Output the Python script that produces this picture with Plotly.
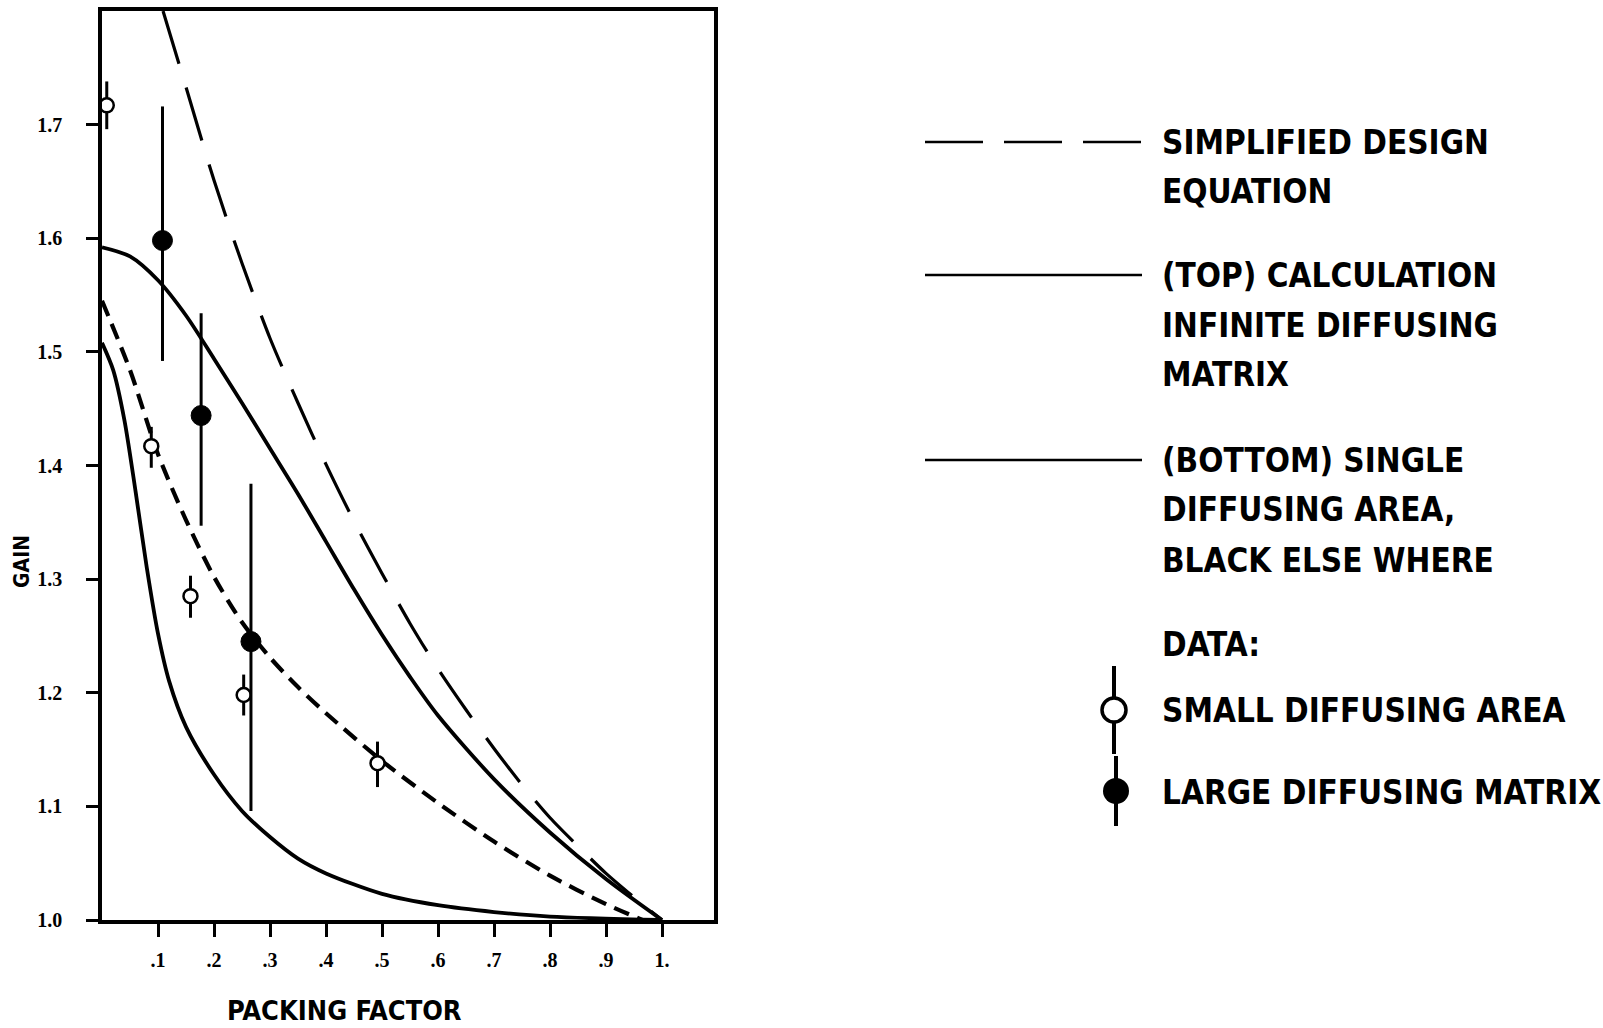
import plotly.graph_objects as go

# ---------------- data ----------------
design_x = [0.109, 0.15, 0.2, 0.25, 0.3, 0.35, 0.4, 0.45, 0.5, 0.55, 0.6, 0.65, 0.7, 0.75, 0.8, 0.85, 0.9, 0.95, 1.0]
design_y = [1.8, 1.733, 1.651, 1.578, 1.512, 1.455, 1.401, 1.351, 1.305, 1.261, 1.221, 1.185, 1.151, 1.119, 1.090, 1.065, 1.041, 1.02, 1.0]

top_x = [0, 0.05, 0.1, 0.15, 0.2, 0.25, 0.3, 0.35, 0.4, 0.45, 0.5, 0.55, 0.6, 0.7, 0.8, 0.9, 1.0]
top_y = [1.592, 1.584, 1.563, 1.532, 1.494, 1.455, 1.415, 1.375, 1.333, 1.291, 1.251, 1.214, 1.180, 1.124, 1.077, 1.036, 1.0]

short_x = [0, 0.05, 0.1, 0.15, 0.2, 0.25, 0.3, 0.35, 0.4, 0.5, 0.6, 0.7, 0.8, 0.9, 0.965]
short_y = [1.545, 1.484, 1.41, 1.352, 1.302, 1.262, 1.231, 1.205, 1.182, 1.140, 1.103, 1.069, 1.039, 1.014, 1.0]

bottom_x = [0, 0.02, 0.04, 0.06, 0.08, 0.1, 0.12, 0.15, 0.2, 0.25, 0.3, 0.35, 0.4, 0.5, 0.6, 0.7, 0.8, 1.0]
bottom_y = [1.508, 1.484, 1.44, 1.377, 1.31, 1.252, 1.21, 1.17, 1.128, 1.096, 1.073, 1.054, 1.041, 1.023, 1.013, 1.007, 1.003, 1.0]

small_x = [0.0085, 0.088, 0.158, 0.253, 0.492]
small_y = [1.717, 1.417, 1.285, 1.198, 1.138]
small_hi = [1.738, 1.434, 1.303, 1.216, 1.157]
small_lo = [1.696, 1.398, 1.266, 1.18, 1.117]

large_x = [0.108, 0.177, 0.266]
large_y = [1.598, 1.444, 1.245]
large_hi = [1.716, 1.534, 1.384]
large_lo = [1.492, 1.347, 1.096]

y_ticks = [1.0, 1.1, 1.2, 1.3, 1.4, 1.5, 1.6, 1.7]
y_ticktext = ["1.0", "1.1", "1.2", "1.3", "1.4", "1.5", "1.6", "1.7"]
x_ticks = [0.1, 0.2, 0.3, 0.4, 0.5, 0.6, 0.7, 0.8, 0.9, 1.0]
x_ticktext = [".1", ".2", ".3", ".4", ".5", ".6", ".7", ".8", ".9", "1."]

legend_text = [
    ("SIMPLIFIED DESIGN", 142), ("EQUATION", 191),
    ("(TOP) CALCULATION", 275), ("INFINITE DIFFUSING", 325), ("MATRIX", 374),
    ("(BOTTOM) SINGLE", 460), ("DIFFUSING AREA,", 509), ("BLACK ELSE WHERE", 560),
    ("DATA:", 644), ("SMALL DIFFUSING AREA", 710), ("LARGE DIFFUSING MATRIX", 792),
]

# ---------------- figure ----------------
W, H = 1603, 1028
L, R, T, B = 102, 0, 11, 108
plot_right = 714
split = (plot_right - L) / (W - L - R)

TXT = "Liberation Sans Narrow, Arial Narrow, DejaVu Sans Condensed, sans-serif"
NUM = "Liberation Serif, DejaVu Serif, serif"

fig = go.Figure()

fig.add_trace(go.Scatter(x=design_x, y=design_y, mode="lines",
                         line=dict(color="black", width=3.2, dash="55px,25px", shape="spline", smoothing=0.8)))
fig.add_trace(go.Scatter(x=top_x, y=top_y, mode="lines",
                         line=dict(color="black", width=3.8, shape="spline", smoothing=0.8)))
fig.add_trace(go.Scatter(x=short_x, y=short_y, mode="lines",
                         line=dict(color="black", width=4.2, dash="16px,9px", shape="spline", smoothing=0.8)))
fig.add_trace(go.Scatter(x=bottom_x, y=bottom_y, mode="lines",
                         line=dict(color="black", width=3.8, shape="spline", smoothing=0.8)))

fig.add_trace(go.Scatter(
    x=small_x, y=small_y, mode="markers", cliponaxis=False,
    marker=dict(symbol="circle", size=14, color="white", line=dict(color="black", width=2.5)),
    error_y=dict(type="data", symmetric=False,
                 array=[h - v for h, v in zip(small_hi, small_y)],
                 arrayminus=[v - lo for v, lo in zip(small_y, small_lo)],
                 color="black", thickness=3, width=0)))
fig.add_trace(go.Scatter(
    x=large_x, y=large_y, mode="markers", cliponaxis=False,
    marker=dict(symbol="circle", size=20, color="black", line=dict(color="black", width=1)),
    error_y=dict(type="data", symmetric=False,
                 array=[h - v for h, v in zip(large_hi, large_y)],
                 arrayminus=[v - lo for v, lo in zip(large_y, large_lo)],
                 color="black", thickness=3, width=0)))

# ---------------- legend drawn in a pixel-space helper axis ----------------
lx0, lx1 = 925, 1142
fig.add_trace(go.Scatter(x=[lx0, lx1], y=[142, 142], mode="lines", xaxis="x2", yaxis="y2",
                         line=dict(color="black", width=2.5, dash="58px,21px")))
fig.add_trace(go.Scatter(x=[lx0, lx1], y=[275, 275], mode="lines", xaxis="x2", yaxis="y2",
                         line=dict(color="black", width=2.5)))
fig.add_trace(go.Scatter(x=[lx0, lx1], y=[460, 460], mode="lines", xaxis="x2", yaxis="y2",
                         line=dict(color="black", width=2.5)))
fig.add_trace(go.Scatter(x=[1114], y=[710], mode="markers", xaxis="x2", yaxis="y2", cliponaxis=False,
                         marker=dict(size=24, color="white", line=dict(color="black", width=3.5)),
                         error_y=dict(type="constant", value=44, color="black", thickness=4, width=0)))
fig.add_trace(go.Scatter(x=[1116], y=[791], mode="markers", xaxis="x2", yaxis="y2", cliponaxis=False,
                         marker=dict(size=26, color="black"),
                         error_y=dict(type="constant", value=35, color="black", thickness=4, width=0)))

annotations = []
for txt, yy in legend_text:
    annotations.append(dict(x=1160, y=yy, xref="x2", yref="y2", text=txt, showarrow=False,
                             xanchor="left", yanchor="middle",
                             font=dict(family=TXT, size=33, color="black", weight="bold")))

annotations.append(dict(x=(344 - L) / (W - L - R), y=(H - B - 1010) / (H - T - B),
                        xref="paper", yref="paper", text="PACKING FACTOR", showarrow=False,
                        xanchor="center", yanchor="middle",
                        font=dict(family=TXT, size=27, color="black", weight="bold")))
annotations.append(dict(x=(22 - L) / (W - L - R), y=(H - B - 562) / (H - T - B),
                        xref="paper", yref="paper", text="GAIN", showarrow=False, textangle=-90,
                        xanchor="center", yanchor="middle",
                        font=dict(family=TXT, size=21, color="black", weight="bold")))

fig.update_layout(
    width=W, height=H,
    margin=dict(l=L, r=R, t=T, b=B, pad=0),
    paper_bgcolor="white", plot_bgcolor="white",
    showlegend=False,
    annotations=annotations,
    xaxis=dict(domain=[0, split], range=[0, (plot_right - L) / 560], showgrid=False, zeroline=False,
               showline=True, linecolor="black", linewidth=3.5, mirror=True,
               ticks="outside", ticklen=13, tickwidth=3, tickcolor="black",
               tickvals=x_ticks, ticktext=x_ticktext, ticklabelstandoff=6,
               tickfont=dict(family=NUM, size=20, color="black", weight="bold")),
    yaxis=dict(domain=[0, 1], range=[1.0, 1.8], showgrid=False, zeroline=False,
               showline=True, linecolor="black", linewidth=3.5, mirror=True,
               ticks="outside", ticklen=12, tickwidth=3, tickcolor="black",
               tickvals=y_ticks, ticktext=y_ticktext, ticklabelstandoff=20,
               tickfont=dict(family=NUM, size=20, color="black", weight="bold")),
    xaxis2=dict(domain=[split, 1], range=[plot_right, W], visible=False, anchor="y2"),
    yaxis2=dict(domain=[0, 1], range=[H - B, T], visible=False, anchor="x2"),
)

fig.write_html("out.html")
